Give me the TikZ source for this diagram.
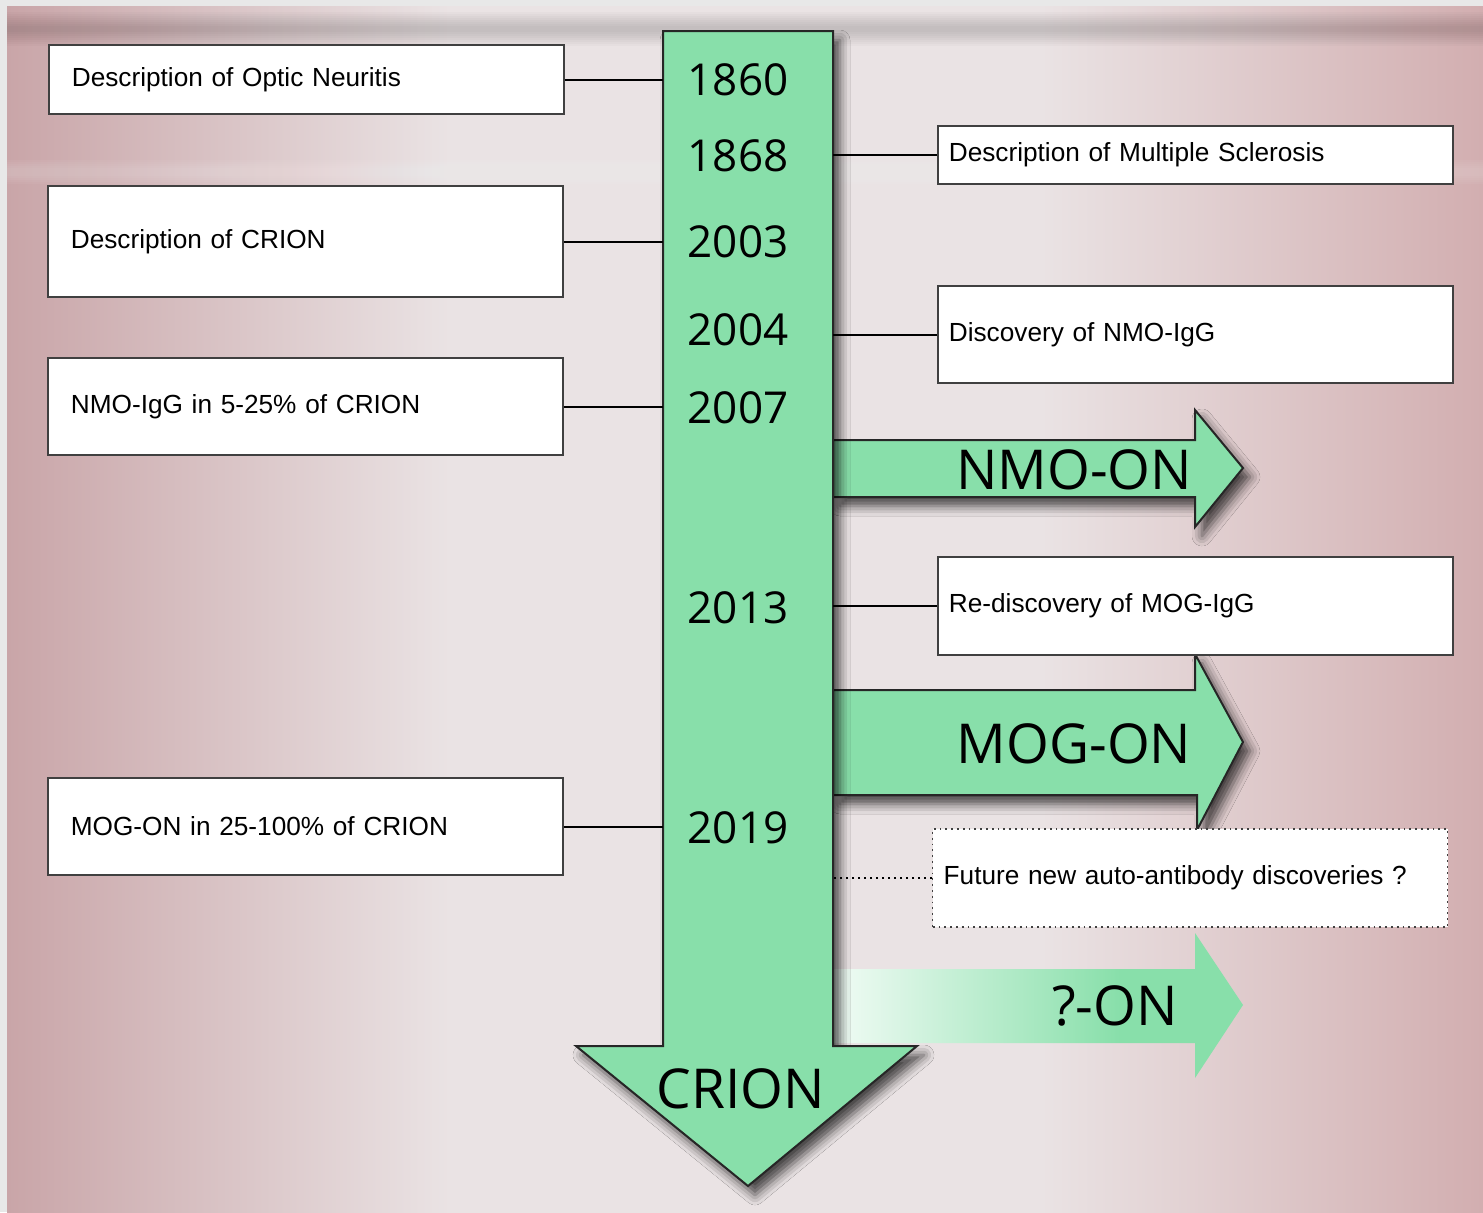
\documentclass[tikz,border=0pt]{standalone}
\usepackage{fontspec}
\setmainfont{Liberation Sans}
\newfontfamily\yearfont{Open Sans}
\usetikzlibrary{shadows.blur}

\definecolor{argreen}{HTML}{88DFAA}
\definecolor{bgpink}{HTML}{C9A5A8}
\definecolor{bgpinkR}{HTML}{D2AEB0}
\definecolor{bglight}{HTML}{EAE3E4}
\definecolor{bgedge}{HTML}{E8E8E8}

\pgfdeclarehorizontalshading{bgshade}{100bp}{color(0bp)=(bgpink); color(25bp)=(bgpink); color(40bp)=(bglight); color(60bp)=(bglight); color(75bp)=(bgpinkR); color(100bp)=(bgpinkR)}
\pgfdeclarehorizontalshading{qshade}{100bp}{color(0bp)=(argreen!12!white); color(25bp)=(argreen!12!white); color(60bp)=(argreen); color(75bp)=(argreen); color(100bp)=(argreen)}

\begin{document}
\begin{tikzpicture}[x=0.5pt,y=-0.5pt,
	box/.style={draw=black!75, line width=0.9pt, fill=white, align=left, anchor=west, font=\fontsize{13.1}{15}\selectfont},
	leftbox/.style={box, inner xsep=11.5pt, text width=234.5pt, minimum height=#1},
	rightbox/.style={box, inner xsep=5.5pt, text width=246.5pt, minimum height=#1},
	year/.style={font=\yearfont\fontsize{22}{26}\selectfont},
	biglabel/.style={font=\yearfont\fontsize{27.5}{32}\selectfont},
	link/.style={line width=1pt},
	bigarrow/.style={fill=argreen, draw=black!85, line width=1pt, line join=miter,
		blur shadow={shadow xshift=3.5pt, shadow yshift=-4.5pt, shadow blur radius=5pt, shadow opacity=70}}]
	\useasboundingbox (0,0) rectangle (1483,1212);
	
	% background
	\fill[bgedge] (0,0) rectangle (1483,1212);
	\shade[shading=bgshade] (7,6) rectangle (1483,1212);
	\foreach \i in {0,...,7}
		\fill[black, opacity=0.02] (7,12+2*\i) rectangle (1483,46-2*\i);
	\foreach \i in {0,...,4}
		\fill[white, opacity=0.04] (7,160+2*\i) rectangle (1483,184-2*\i);
	
	\coordinate (shaftL) at (663,0);
	\coordinate (shaftR) at (833,0);
	
	% side arrows
	\draw[bigarrow] (833,440) -- (1195,440) -- (1195,410) -- (1243,468) -- (1195,527) -- (1195,497) -- (833,497) -- cycle;
	\draw[bigarrow] (833,690) -- (1195,690) -- (1195,654) -- (1243,742) -- (1197,830) -- (1197,795) -- (833,795) -- cycle;
	\shade[shading=qshade] (833,969) -- (1195,969) -- (1195,933) -- (1243,1005) -- (1195,1078) -- (1195,1043) -- (833,1043) -- cycle;
	
	\node[biglabel] (nmoon) at (1074,470) {NMO-ON};
	\node[biglabel] (mogon) at (1074,744) {MOG-ON};
	\node[biglabel] (qon) at (1115,1006) {?-ON};
	
	% time line
	\draw[bigarrow] (663,31) -- (833,31) -- (833,1046) -- (917,1046) -- (748,1186) -- (576,1046) -- (663,1046) -- cycle;
	\node[biglabel] (crion) at (741,1089) {CRION};
	
	\node[year] (y1860) at (738,80) {1860};
	\node[year] (y1868) at (738,156) {1868};
	\node[year] (y2003) at (738,242) {2003};
	\node[year] (y2004) at (738,330) {2004};
	\node[year] (y2007) at (738,408) {2007};
	\node[year] (y2013) at (738,608) {2013};
	\node[year] (y2019) at (738,828) {2019};
	
	% events
	\node[leftbox=34.5pt] (optic) at (48,79.5) {Description of Optic Neuritis};
	\node[leftbox=55.5pt] (crdesc) at (47,241.5) {Description of CRION};
	\node[leftbox=48.5pt] (nmocr) at (47,406.5) {NMO-IgG in 5-25\% of CRION};
	\node[leftbox=48.5pt] (mogcr) at (47,826.5) {MOG-ON in 25-100\% of CRION};
	
	\node[rightbox=29pt] (ms) at (937,155) {Description of Multiple Sclerosis};
	\node[rightbox=48.5pt] (nmoigg) at (937,334.5) {Discovery of NMO-IgG};
	\node[rightbox=49pt] (mogigg) at (937,606) {Re-discovery of MOG-IgG};
	\node[rightbox=49pt, dotted, line width=0.7pt] (future) at (932,878) {Future new auto-antibody discoveries ?};
	
	\draw[link] (optic.east) -- (optic.east -| shaftL);
	\draw[link] (crdesc.east) -- (crdesc.east -| shaftL);
	\draw[link] (nmocr.east) -- (nmocr.east -| shaftL);
	\draw[link] (mogcr.east) -- (mogcr.east -| shaftL);
	\draw[link] (ms.west) -- (ms.west -| shaftR);
	\draw[link] (nmoigg.west) -- (nmoigg.west -| shaftR);
	\draw[link] (mogigg.west) -- (mogigg.west -| shaftR);
	\draw[link, dotted, line width=0.8pt] (future.west) -- (future.west -| shaftR);
\end{tikzpicture}
\end{document}
